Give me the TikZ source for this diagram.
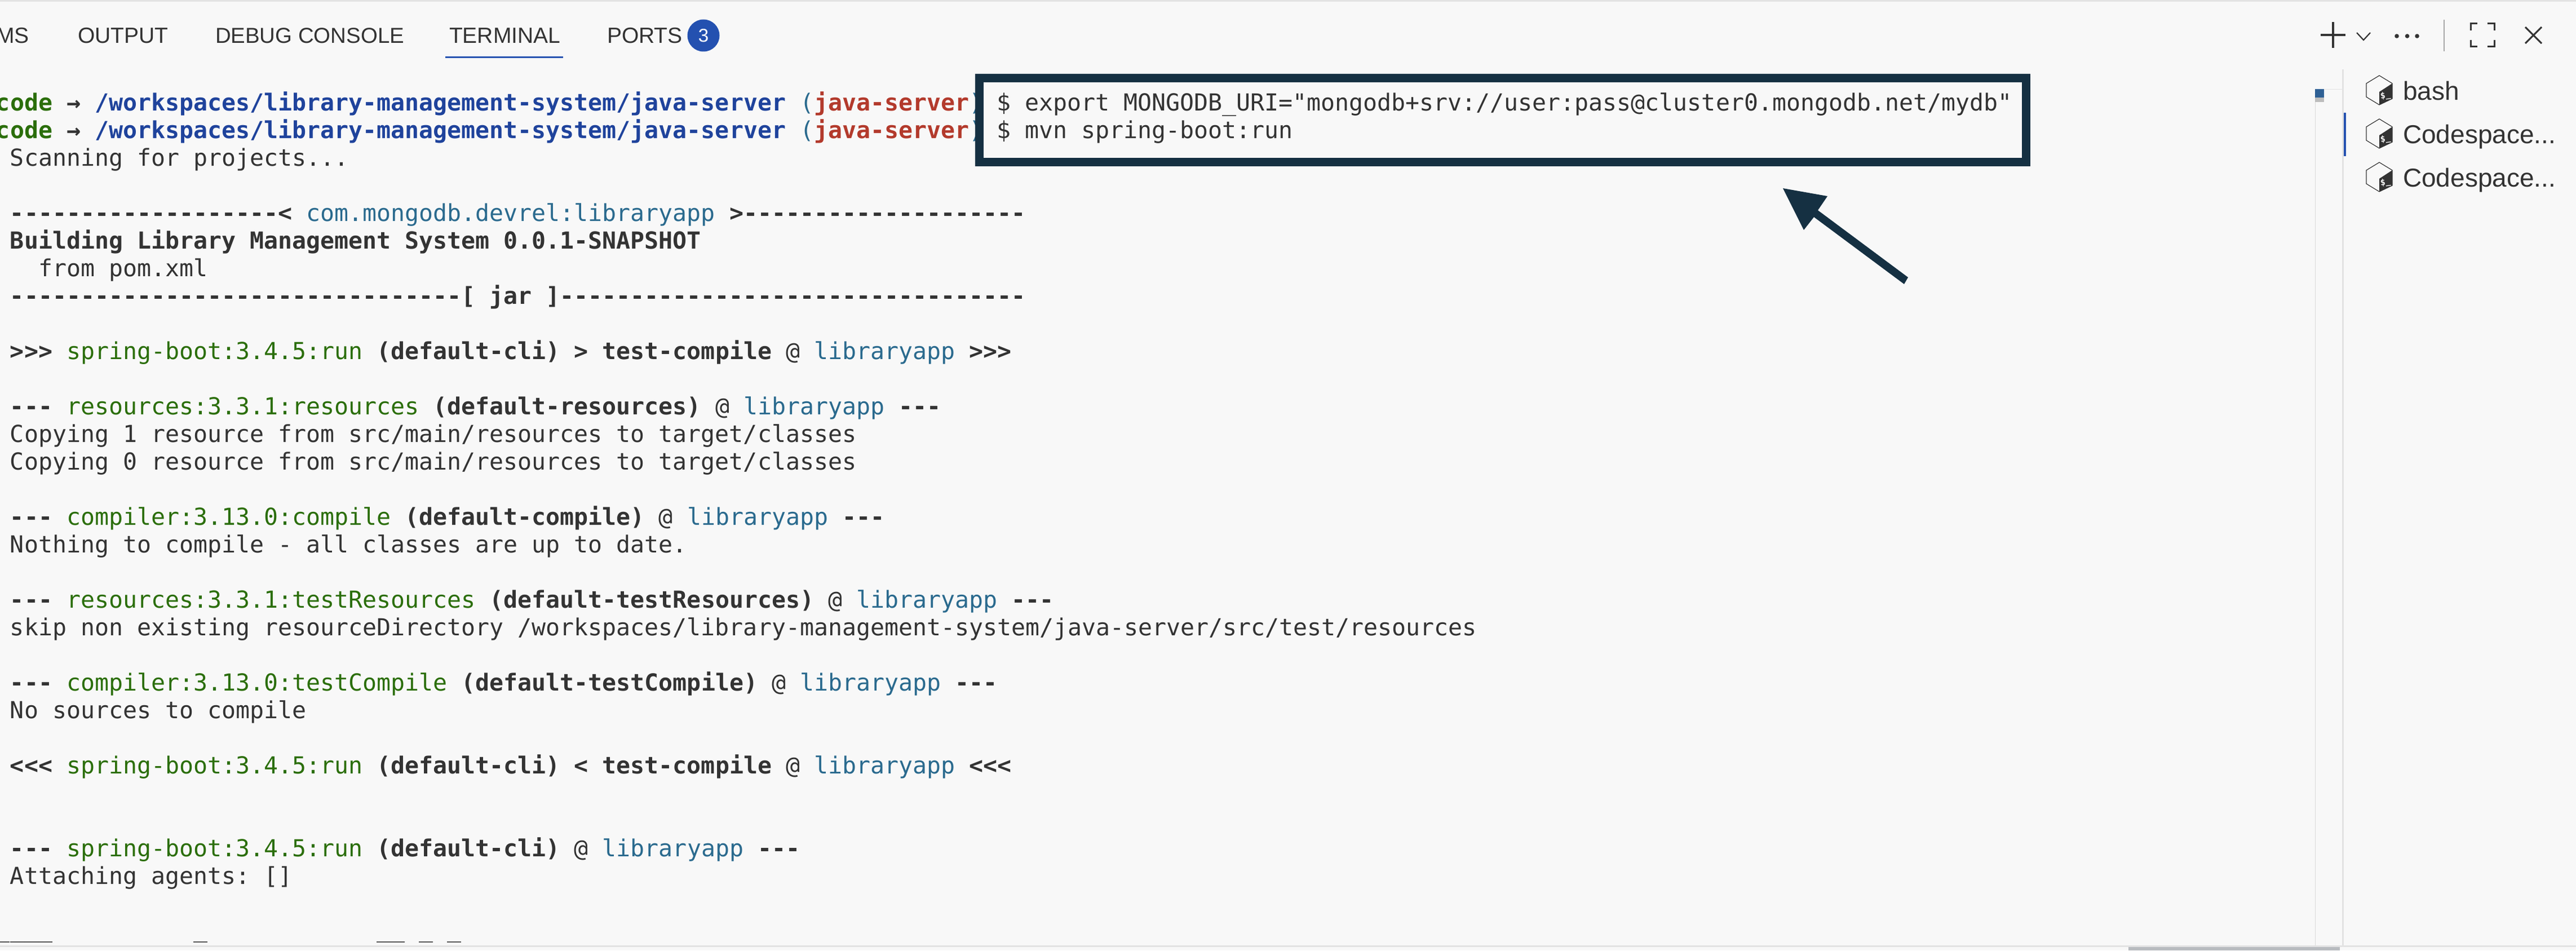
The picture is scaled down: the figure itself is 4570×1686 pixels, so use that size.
\documentclass[tikz,border=0pt]{standalone}
\usepackage{fontspec}
\setmainfont{Liberation Sans}
\setmonofont{DejaVu Sans Mono}
\definecolor{bgc}{HTML}{F8F8F8}
\definecolor{txt}{HTML}{333333}
\definecolor{grn}{HTML}{2B6E0B}
\definecolor{pth}{HTML}{1F439C}
\definecolor{tea}{HTML}{2A6A8E}
\definecolor{rdd}{HTML}{B33A2C}
\definecolor{accent}{HTML}{2451B0}
\definecolor{navy}{HTML}{153042}
\definecolor{seam}{HTML}{E3E3E3}
\definecolor{mapblue}{HTML}{2E6094}
\definecolor{mapgray}{HTML}{BCBCBC}
\definecolor{thumb}{HTML}{B8BBBF}
\newcommand{\grn}[1]{\textcolor{grn}{#1}}
\newcommand{\tea}[1]{\textcolor{tea}{#1}}
\newcommand{\bld}[1]{\textbf{#1}}
\newcommand{\ftm}{\ttfamily\frenchspacing\fontsize{20.78}{24}\selectfont}
\newcommand{\termline}[2]{\node[termtext] (t#1) at (18,{196+49*#1}) {#2};}
\newcommand{\tabel}[3]{\node[tabtext,#3] (#1) {#2};}
\newcommand{\bashicon}[2]{%
  \begin{scope}[shift={(0,#2)}]
    \draw[txt,line width=0.6pt,fill=bgc] (4221,134) -- (4244,148) -- (4244,175) -- (4221,186) -- (4198,172) -- (4198,148) -- cycle;
    \fill[txt] (4221,186) -- (4221,163) -- (4244,148) -- (4244,175) -- cycle;
    \node[inner sep=0,text=bgc,font=\ttfamily\bfseries\fontsize{7.5}{8}\selectfont,rotate=8] (#1) at (4232,170) {\$\_};
  \end{scope}}
\tikzset{
  termtext/.style={anchor=base west,inner sep=0,outer sep=0,text=txt,font=\ftm},
  tabtext/.style={inner sep=0,outer sep=0,text=txt,font=\fontsize{19.5}{22}\selectfont},
  sidetext/.style={anchor=base west,inner sep=0,outer sep=0,text=txt,font=\fontsize{23}{26}\selectfont},
  ctrl/.style={txt,line width=1.5pt},
}
\begin{document}
\begin{tikzpicture}[x=0.5pt,y=-0.5pt]
\useasboundingbox (0,0) rectangle (4570,1686);
\clip (0,0) rectangle (4570,1686);
\fill[bgc] (0,0) rectangle (4570,1686);
\fill[seam] (0,0) rectangle (4570,3);

% tabs
\tabel{tabms}{MS}{anchor=base east,at={(52,77)}}
\tabel{tabout}{OUTPUT}{anchor=base west,at={(138,77)}}
\tabel{tabdbg}{\fontsize{19.2}{22}\selectfont DEBUG CONSOLE}{anchor=base west,at={(382,77)}}
\tabel{tabterm}{TERMINAL}{anchor=base west,at={(797,77)}}
\tabel{tabports}{PORTS}{anchor=base west,at={(1077,77)}}
\node[circle,fill=accent,minimum size=28.5pt,inner sep=0,text=white,font=\fontsize{16.5}{18}\selectfont] (badge) at (1248,63) {3};
\fill[accent] (790,100) rectangle (999,103);

% terminal text
\node[termtext] (p0) at (-7,196) {\bld{\grn{code}} \bld{→} \bld{\textcolor{pth}{/workspaces/library-management-system/java-server}} \tea{(}\bld{\textcolor{rdd}{java-server}}\tea{)}};
\node[termtext] (p1) at (-7,245) {\bld{\grn{code}} \bld{→} \bld{\textcolor{pth}{/workspaces/library-management-system/java-server}} \tea{(}\bld{\textcolor{rdd}{java-server}}\tea{)}};
\node[termtext] (c0) at (1768,196) {\$ export MONGODB\_URI="mongodb+srv://user:pass@cluster0.mongodb.net/mydb"};
\node[termtext] (c1) at (1768,245) {\$ mvn spring-boot:run};
\termline{2}{Scanning for projects...}
\termline{4}{\bld{-------------------< }\tea{com.mongodb.devrel:libraryapp}\bld{ >--------------------}}
\termline{5}{\bld{Building Library Management System 0.0.1-SNAPSHOT}}
\termline{6}{\ \ from pom.xml}
\termline{7}{\bld{--------------------------------[ jar ]---------------------------------}}
\termline{9}{\bld{>>>} \grn{spring-boot:3.4.5:run} \bld{(default-cli)} \bld{> test-compile} @ \tea{libraryapp} \bld{>>>}}
\termline{11}{\bld{---} \grn{resources:3.3.1:resources} \bld{(default-resources)} @ \tea{libraryapp} \bld{---}}
\termline{12}{Copying 1 resource from src/main/resources to target/classes}
\termline{13}{Copying 0 resource from src/main/resources to target/classes}
\termline{15}{\bld{---} \grn{compiler:3.13.0:compile} \bld{(default-compile)} @ \tea{libraryapp} \bld{---}}
\termline{16}{Nothing to compile - all classes are up to date.}
\termline{18}{\bld{---} \grn{resources:3.3.1:testResources} \bld{(default-testResources)} @ \tea{libraryapp} \bld{---}}
\termline{19}{skip non existing resourceDirectory /workspaces/library-management-system/java-server/src/test/resources}
\termline{21}{\bld{---} \grn{compiler:3.13.0:testCompile} \bld{(default-testCompile)} @ \tea{libraryapp} \bld{---}}
\termline{22}{No sources to compile}
\termline{24}{\bld{<<<} \grn{spring-boot:3.4.5:run} \bld{(default-cli)} \bld{< test-compile} @ \tea{libraryapp} \bld{<<<}}
\termline{27}{\bld{---} \grn{spring-boot:3.4.5:run} \bld{(default-cli)} @ \tea{libraryapp} \bld{---}}
\termline{28}{Attaching agents: []}
\node[termtext] (u0) at (-7,1662) {\_\_\_\_};
\node[termtext] (u1) at (343,1662) {\_};
\node[termtext] (u2) at (668,1662) {\_\_ \_ \_};

% callout box and arrow
\draw[navy,line width=7.5pt] (1737.5,138.5) rectangle (3594.5,287.5);
\coordinate (tip) at (3163,334);
\coordinate (hr) at (3242,348);
\coordinate (nr) at (3225,373);
\coordinate (er) at (3385,492);
\coordinate (eb) at (3378,504);
\coordinate (nl) at (3218,385);
\coordinate (hl) at (3200,408);
\fill[navy] (tip) -- (hr) -- (nr) -- (er) -- (eb) -- (nl) -- (hl) -- cycle;

% toolbar
\draw[ctrl,line width=1.6pt] (4117,62) -- (4161,62);
\draw[ctrl,line width=1.6pt] (4139,39) -- (4139,85);
\draw[ctrl,line width=1.1pt] (4181,58) -- (4193,71) -- (4205,58);
\fill[txt] (4252,64) circle (3.8) (4270.5,64) circle (3.8) (4288,64) circle (3.8);
\draw[gray!70,line width=1pt] (4335.5,35) -- (4335.5,91);
\draw[ctrl] (4383,54) -- (4383,42) -- (4395,42);
\draw[ctrl] (4413,42) -- (4425,42) -- (4425,54);
\draw[ctrl] (4383,71) -- (4383,83) -- (4395,83);
\draw[ctrl] (4413,83) -- (4425,83) -- (4425,71);
\draw[ctrl] (4480,48) -- (4509,77);
\draw[ctrl] (4509,48) -- (4480,77);

% side panel
\fill[seam!90!gray] (4106.5,158) rectangle (4107.5,1677);
\fill[seam] (4107,158) rectangle (4155,159);
\fill[seam] (4155,123) rectangle (4158,1677);
\fill[mapblue] (4107,158) rectangle (4123,173);
\fill[mapgray] (4107,173) rectangle (4123,181);
\fill[accent] (4158,200) rectangle (4162,277);
\bashicon{ic0}{0}
\bashicon{ic1}{77}
\bashicon{ic2}{154}
\node[sidetext] (s0) at (4263,177) {bash};
\node[sidetext] (s1) at (4263,254) {Codespace...};
\node[sidetext] (s2) at (4263,331) {Codespace...};

% bottom
\fill[seam] (0,1677) rectangle (4570,1680);
\fill[thumb] (3776,1680) rectangle (4151,1686);
\end{tikzpicture}
\end{document}
